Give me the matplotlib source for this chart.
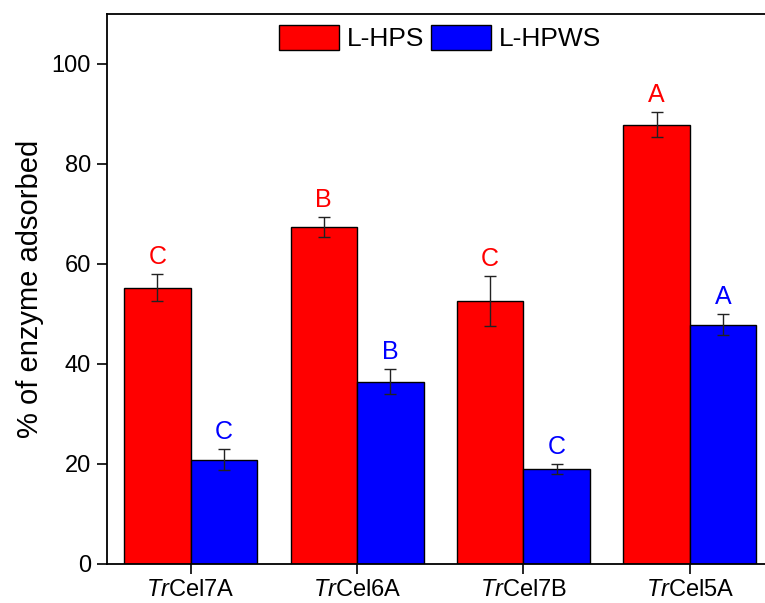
import numpy as np
import matplotlib.pyplot as plt

plt.rcParams['font.family'] = ['Liberation Sans', 'DejaVu Sans']
plt.rcParams['mathtext.fontset'] = 'custom'
plt.rcParams['mathtext.it'] = 'Liberation Sans:italic'
plt.rcParams['mathtext.rm'] = 'Liberation Sans'

# Data
enzymes = ['Cel7A', 'Cel6A', 'Cel7B', 'Cel5A']
hps = [55.2, 67.3, 52.6, 87.8]
hps_err = [2.7, 2.0, 5.0, 2.5]
hpws = [20.8, 36.4, 19.0, 47.8]
hpws_err = [2.1, 2.5, 1.0, 2.1]
hps_letters = ['C', 'B', 'C', 'A']
hpws_letters = ['C', 'B', 'C', 'A']

fig = plt.figure(figsize=(7.65, 6.03), dpi=100)
ax = fig.add_axes([0.1405, 0.0647, 0.87, 0.9121])

x = np.arange(len(enzymes))
w = 0.4
ax.bar(x - w/2, hps, w, color='#ff0000', edgecolor='black', linewidth=1, label='L-HPS')
ax.bar(x + w/2, hpws, w, color='#0000ff', edgecolor='black', linewidth=1, label='L-HPWS')
ax.errorbar(x - w/2, hps, yerr=hps_err, fmt='none', ecolor='#222222',
            elinewidth=1, capsize=4, capthick=1)
ax.errorbar(x + w/2, hpws, yerr=hpws_err, fmt='none', ecolor='#222222',
            elinewidth=1, capsize=4, capthick=1)

# Significance letters above the error bars
for xi, v, e, t in zip(x - w/2, hps, hps_err, hps_letters):
    ax.text(xi, v + e + 1.0, t, color='#ff0000', ha='center', va='bottom', fontsize=18)
for xi, v, e, t in zip(x + w/2, hpws, hpws_err, hpws_letters):
    ax.text(xi, v + e + 1.0, t, color='#0000ff', ha='center', va='bottom', fontsize=18)

ax.set_xlim(-0.5, 3.5)
ax.set_ylim(0, 110)
ax.set_yticks([0, 20, 40, 60, 80, 100])
ax.set_xticks(x)
ax.set_xticklabels(['$\\mathit{Tr}$' + e for e in enzymes])
ax.tick_params(axis='both', labelsize=17, width=1.2, direction='out')
ax.tick_params(axis='x', length=7, pad=4)
ax.tick_params(axis='y', length=7, pad=5)
for s in ax.spines.values():
    s.set_linewidth(1.3)
ax.set_ylabel('% of enzyme adsorbed', fontsize=21, labelpad=5)

ax.legend(loc='upper center', bbox_to_anchor=(0.5, 1.0), ncol=2, frameon=False,
          fontsize=19, handlelength=2.27, handleheight=1.1, columnspacing=0.25,
          handletextpad=0.3, borderaxespad=0.0)

fig.savefig('out.png', dpi=100)
